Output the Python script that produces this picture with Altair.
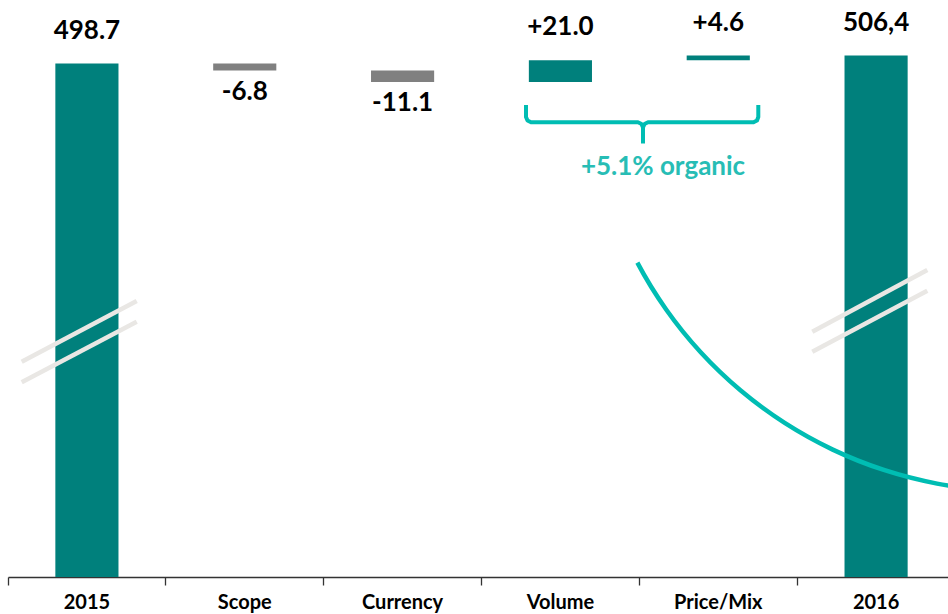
import altair as alt
import pandas as pd

# ---------------- data ----------------
categories = ["2015", "Scope", "Currency", "Volume", "Price/Mix", "2016"]
kinds = ["total", "delta", "delta", "delta", "delta", "total"]
amounts = [498.7, -6.8, -11.1, 21.0, 4.6, 506.4]
labels = ["498.7", "-6.8", "-11.1", "+21.0", "+4.6", "506,4"]
organic_label = "+5.1% organic"

TEAL = "#00807C"
GRAY = "#808080"
BRIGHT = "#00BDB3"
BRIGHT_TEXT = "#27BDB5"
BREAK = "#E9E7E4"
FONT = "Lato"

# page offsets of the plot area
PAD_L, PAD_T = 8, 21

rows = []
running = 0.0
for c, k, a, l in zip(categories, kinds, amounts, labels):
    if k == "total":
        start, end = 0.0, a
    else:
        start, end = running, running + a
    running = end
    rows.append(dict(category=c, start=start, end=end, label=l,
                     direction="down" if end < start else "up",
                     tone="neg" if (k == "delta" and a < 0) else "pos"))
df = pd.DataFrame(rows)

# ---------------- annotation geometry (page pixels) ----------------
break_x1 = [21.7, 21.7, 812.3, 812.3]
break_y1 = [361.7, 382.3, 331.7, 351.7]
break_x2 = [136.7, 136.7, 927.3, 927.3]
break_y2 = [301.0, 321.7, 270.0, 290.7]
breaks = pd.DataFrame(dict(x=[v - PAD_L for v in break_x1], y=[v - PAD_T for v in break_y1],
                           x2=[v - PAD_L for v in break_x2], y2=[v - PAD_T for v in break_y2]))

brace_pts = [
    ("l", 526, 105), ("l", 526, 117), ("l", 527.5, 120.5), ("l", 531, 122.3),
    ("l", 638, 122.3), ("l", 641.5, 124), ("l", 643, 127.5), ("l", 643, 143.5),
    ("r", 643, 127.5), ("r", 644.5, 124), ("r", 648, 122.3), ("r", 753.5, 122.3),
    ("r", 757, 120.5), ("r", 758.3, 117), ("r", 758.3, 105),
]
brace = pd.DataFrame([dict(seg=s, ord=i, x=x - PAD_L, y=y - PAD_T)
                      for i, (s, x, y) in enumerate(brace_pts)])

# ---------------- chart ----------------
x_enc = alt.X(
    "category:N", sort=categories,
    scale=alt.Scale(range=[0, 947], paddingInner=0, paddingOuter=0),
    axis=alt.Axis(title=None, labelAngle=0, bandPosition=0, ticks=True, tickSize=8,
                  labelFont=FONT, labelFontWeight="bold", labelFontSize=20,
                  labelColor="#000000", labelPadding=7, domainColor="#333333",
                  tickColor="#333333", domainWidth=1.3, tickWidth=1.3, grid=False),
)
y_scale = alt.Scale(domain=[0, 540], nice=False, zero=True)

base = alt.Chart(df)

bars = base.mark_bar(width=alt.RelativeBandSize(0.4)).encode(
    x=x_enc,
    y=alt.Y("start:Q", scale=y_scale, axis=None),
    y2="end:Q",
    color=alt.Color("tone:N", scale=alt.Scale(domain=["pos", "neg"], range=[TEAL, GRAY]), legend=None),
)

up_text = base.transform_filter(alt.datum.direction == "up").mark_text(
    font=FONT, fontWeight="bold", fontSize=26, baseline="alphabetic", dy=-25, color="#000000"
).encode(x=x_enc, y=alt.Y("end:Q", scale=y_scale, axis=None), text="label:N")

down_text = base.transform_filter(alt.datum.direction == "down").mark_text(
    font=FONT, fontWeight="bold", fontSize=26, baseline="alphabetic", dy=29.5, color="#000000"
).encode(x=x_enc, y=alt.Y("end:Q", scale=y_scale, axis=None), text="label:N")

break_marks = alt.Chart(breaks).mark_rule(color=BREAK, strokeWidth=4.5).encode(
    x=alt.X("x:Q", scale=None), y=alt.Y("y:Q", scale=None),
    x2="x2:Q", y2="y2:Q",
)

brace_line = alt.Chart(brace).mark_line(color=BRIGHT, strokeWidth=4, strokeJoin="round").encode(
    x=alt.X("x:Q", scale=None), y=alt.Y("y:Q", scale=None),
    detail="seg:N", order="ord:Q",
)

organic = alt.Chart(pd.DataFrame({"t": [organic_label]})).mark_text(
    font=FONT, fontWeight="bold", fontSize=26, color=BRIGHT_TEXT, baseline="alphabetic", align="center"
).encode(x=alt.value(663 - PAD_L), y=alt.value(175 - PAD_T), text="t:N")

swoosh = alt.Chart(pd.DataFrame({"a": [1]})).mark_arc(
    radius=431.5, radius2=427, theta=3.2, theta2=4.2254, color=BRIGHT
).encode(x=alt.value(1016.7 - PAD_L), y=alt.value(61.8 - PAD_T))

chart = alt.layer(bars, swoosh, break_marks, up_text, down_text, brace_line, organic).properties(
    width=940, height=556,
    autosize=alt.AutoSizeParams(type="none"),
    padding={"left": PAD_L, "top": PAD_T, "right": 0, "bottom": 37},
    background="white",
).configure_view(stroke=None)

chart.save("out.html", embed_options={"renderer": "svg", "actions": False})
